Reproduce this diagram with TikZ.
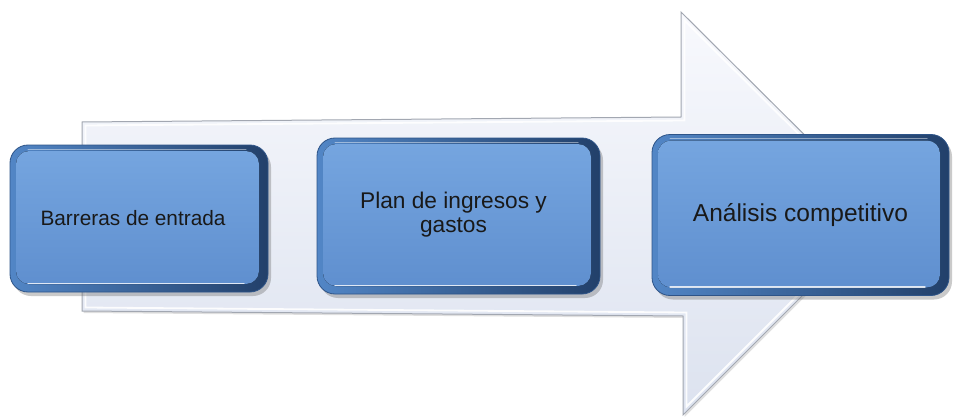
\documentclass[tikz,border=0pt]{standalone}
\usepackage{fontspec}
\setmainfont{Liberation Sans}
\usetikzlibrary{shadows}
\definecolor{arrowline}{HTML}{A2A7B1}
\definecolor{arrowtop}{HTML}{F8F9FD}
\definecolor{arrowbot}{HTML}{DCE2EF}
\definecolor{boxL}{HTML}{5286C6}
\definecolor{boxR}{HTML}{22406A}
\definecolor{boxEdge}{HTML}{2E5488}
\definecolor{boxInT}{HTML}{76A6E0}
\definecolor{boxInB}{HTML}{5E8ECE}
\begin{document}
\begin{tikzpicture}[x=1pt,y=-1pt,
  bigarrow/.style={draw=arrowline, line width=1pt, top color=arrowtop, bottom color=arrowbot,
    drop shadow={shadow xshift=1.5pt, shadow yshift=-2pt, opacity=0.25, fill=gray}},
  arrowinner/.style={draw=white, line width=1.8pt, opacity=0.9},
  bluebox/.style={rounded corners=18pt, left color=boxL, right color=boxR, draw=boxEdge,
    line width=0.8pt, inner sep=0pt, text=black!90, align=center,
    drop shadow={shadow xshift=3pt, shadow yshift=-4pt, opacity=0.35, fill=black!60},
    path picture={
      \fill[rounded corners=13pt, top color=boxInT, bottom color=boxInB]
        ([xshift=6pt,yshift=-6pt]path picture bounding box.north west) rectangle
        ([xshift=-9pt,yshift=8pt]path picture bounding box.south east);
      \draw[white, opacity=0.8, line width=1.4pt, line cap=round]
        ([xshift=18pt,yshift=8.5pt]path picture bounding box.south west) --
        ([xshift=-24pt,yshift=8.5pt]path picture bounding box.south east);
      \draw[white, opacity=0.45, line width=1pt, line cap=round]
        ([xshift=18pt,yshift=-4pt]path picture bounding box.north west) --
        ([xshift=-22pt,yshift=-4pt]path picture bounding box.north east);
    }}]
\useasboundingbox (0,0) rectangle (955,417);
% big arrow
\path[bigarrow] (82,122) -- (681,117) -- (681,12) -- (884,214) -- (683,415) -- (683,316) -- (82,311) -- cycle;
\draw[arrowinner] (85.5,125.5) -- (684.5,120.5) -- (684.5,20.5) -- (879,214) -- (686.5,406.5) -- (686.5,312.5) -- (85.5,307.5) -- cycle;
% boxes
\node[bluebox, minimum width=258pt, minimum height=147pt, font=\fontsize{20.8}{25}\selectfont]
  (b1) at (139,218.5) {\hspace*{-12pt}Barreras de entrada};
\node[bluebox, minimum width=283pt, minimum height=156pt, font=\fontsize{22.7}{24}\selectfont]
  (b2) at (458.5,216) {\hspace*{-10pt}\begin{tabular}{@{}c@{}}Plan de ingresos y\\gastos\end{tabular}};
\node[bluebox, minimum width=297pt, minimum height=161pt, font=\fontsize{24.5}{28}\selectfont]
  (b3) at (800.5,215) {Análisis competitivo};
\end{tikzpicture}
\end{document}
